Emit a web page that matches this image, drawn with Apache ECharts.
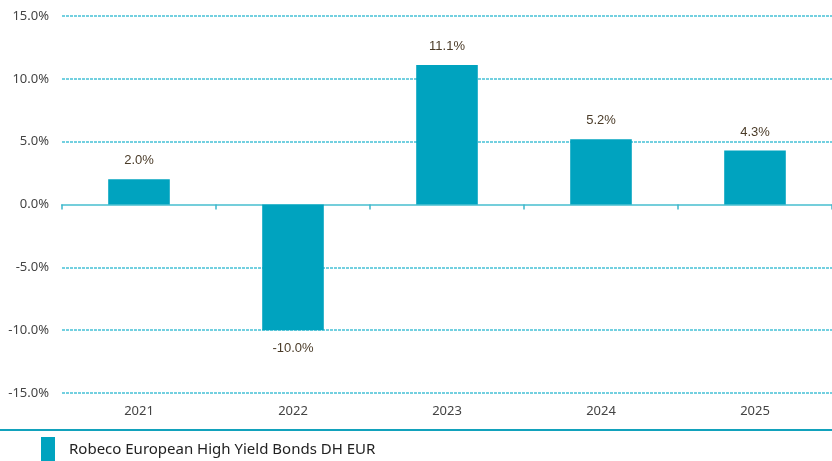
<!DOCTYPE html>
<html>
<head>
<meta charset="utf-8">
<script src="https://cdn.jsdelivr.net/npm/echarts@6/dist/echarts.min.js"></script>
<style>
html, body { margin: 0; padding: 0; background: #fff; }
#main { width: 832px; height: 461px; }
</style>
</head>
<body>
<div id="main"></div>
<script>
// jaarrendementen
var years = ['2021', '2022', '2023', '2024', '2025'];
var returns = [2.0, -10.0, 11.1, 5.2, 4.3];
var seriesName = 'Robeco European High Yield Bonds DH EUR';

var myChart = echarts.init(document.getElementById('main'));
var option = {
	animation: false,
	grid: {
		left: 62,
		right: 0,
		top: 16,
		bottom: 68
	},
	legend: {
		left: 36,
		top: 435,
		padding: [2, 5, 2, 5],
		itemWidth: 14,
		itemHeight: 25,
		icon: 'rect',
		textStyle: {
			fontFamily: 'Noto Sans',
			fontSize: 15,
			color: '#222',
			padding: [2, 0, 0, 9]
		},
		data: [seriesName]
	},
	xAxis: [{
		type: 'category',
		data: years,
		axisLine: {
			onZero: true,
			lineStyle: { color: '#74cedb', width: 2 }
		},
		axisTick: {
			show: true,
			length: 5,
			lineStyle: { color: '#3cb6cb', width: 1.5 }
		},
		axisLabel: { show: false }
	}, {
		type: 'category',
		data: years,
		position: 'bottom',
		axisLine: { show: false, onZero: false },
		axisTick: { show: false },
		axisLabel: {
			margin: 12,
			fontFamily: 'Noto Sans',
			fontSize: 13,
			color: '#444'
		}
	}],
	yAxis: {
		type: 'value',
		min: -15,
		max: 15,
		interval: 5,
		axisLine: { show: false },
		axisTick: { show: false },
		axisLabel: {
			margin: 13,
			fontFamily: 'Noto Sans',
			fontSize: 13,
			color: '#444',
			formatter: function(v) {
				return v.toFixed(1) + '%';
			}
		},
		splitLine: {
			lineStyle: { color: '#45c1d6', type: [3, 1], width: 1.5 }
		}
	},
	graphic: [{
		type: 'line',
		shape: { x1: 0, y1: 430, x2: 832, y2: 430 },
		style: { stroke: '#12a2bc', lineWidth: 2 }
	}],
	series: [{
		name: seriesName,
		type: 'bar',
		barWidth: '40%',
		itemStyle: { color: '#00a3bf' },
		label: {
			show: true,
			position: 'outside',
			distance: 12,
			fontFamily: 'Liberation Sans',
			fontSize: 13,
			color: '#4a3b28',
			formatter: function(p) {
				return p.value.toFixed(1) + '%';
			}
		},
		data: returns
	}]
};
myChart.setOption(option);
</script>
</body>
</html>
